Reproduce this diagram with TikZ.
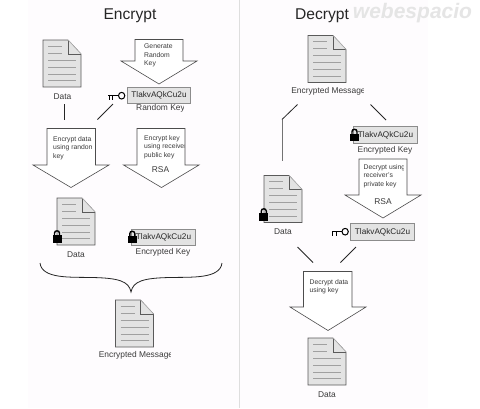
\documentclass[tikz,border=0pt]{standalone}
\usepackage{fontspec}
\setmainfont{Liberation Sans}
\definecolor{ink}{HTML}{3A3A3A}
\definecolor{docfill}{HTML}{E3E3E3}
\definecolor{docline}{HTML}{5A5A5A}
\definecolor{docrule}{HTML}{A0A0A0}
\definecolor{panel}{HTML}{FEFCFE}
\newcommand{\smalltxt}{\fontsize{6.8}{8.2}\selectfont}
\newcommand{\labtxt}{\fontsize{8.4}{10}\selectfont}
\tikzset{
  x=1pt,y=-1pt,
  title/.style={font=\fontsize{15.6}{18}\selectfont,text=black!85,inner sep=0pt},
  lab/.style={font=\labtxt,text=ink,inner sep=0pt},
  note/.style={font=\smalltxt,text=ink,inner sep=0pt,anchor=north west,align=left},
  keybox/.style={draw=black!45,fill=docfill,line width=.7pt,minimum width=63.5,minimum height=16.5,
    inner sep=0pt,font=\fontsize{8.2}{10}\selectfont,text=black!85},
  bigarrow/.style={draw=black!70,fill=white,line width=.6pt,line join=miter},
  link/.style={draw=black!85,line width=.8pt},
  graylink/.style={draw=black!55,line width=1pt},
  docicon/.pic={
    \path[draw=docline,fill=docfill,line width=.7pt] (0,0) -- (25,0) -- (38,14) -- (38,47) -- (0,47) -- cycle;
    \path[draw=docline,fill=docfill,line width=.7pt] (25,0) -- (25,14) -- (38,14);
    \path[draw=black!30,line width=.5pt] (25,0) -- (38,14);
    \path[draw=docrule,line width=.7pt] (5,6) -- (19,6) (5,13) -- (19,13)
      (5,20) -- (33,20) (5,27) -- (33,27) (5,34) -- (33,34) (5,40.5) -- (33,40.5);
  },
  lockicon/.pic={
    \fill[black] (0,5) rectangle (9,12.5);
    \draw[black,line width=1.4pt] (2,5.5) -- (2,3) .. controls (2,.1) and (7,.1) .. (7,3) -- (7,5.5);
  },
  keyicon/.pic={
    \draw[black,line width=1pt] (16.5,3.2) .. controls (16.5,-1.2) and (10.2,-1.2) .. (10.2,3.2) .. controls (10.2,7.6) and (16.5,7.6) .. (16.5,3.2);
    \draw[black,line width=1.1pt] (10.2,3.2) -- (0,3.2) (1,3.2) -- (1,7.2) (4.5,3.2) -- (4.5,7.2);
  }
}
\newcommand{\cliplabel}[5]{\begin{scope}\clip (0,#3-8) rectangle (#4,#3+8);\node[lab,anchor=center] (#1) at (#2,#3) {#5};\end{scope}}
\newcommand{\clipnote}[5]{\begin{scope}\clip (0,0) rectangle (#4,408);\node[note] (#1) at (#2,#3) {#5};\end{scope}}
\begin{document}
\begin{tikzpicture}
\useasboundingbox (0,0) rectangle (480,408);
\fill[white] (0,0) rectangle (480,408);
\fill[panel] (28,0) rectangle (239,408);
\fill[panel] (240,0) rectangle (428,408);
\draw[black!13,line width=.8pt] (239.5,0) -- (239.5,408);

% titles and watermark
\node[title] (enc) at (130,15.5) {Encrypt};
\node[title] (dec) at (322,15.5) {Decrypt};
\node[font=\fontsize{21}{24}\selectfont\bfseries\itshape,text=black!10,inner sep=0pt] (wm) at (412.5,13) {webespacio};

% ---------- Encrypt ----------
\pic (d1) at (43,40) {docicon};
\node[lab] (d1l) at (62.5,96.5) {Data};
\path[bigarrow] (135,39.5) -- (183,39.5) -- (183,61) -- (197,61) -- (159,84) -- (121,61) -- (135,61) -- cycle;
\node[note] (a1t) at (144,44) {Generate\\Random\\Key};
\pic (k1) at (108.3,92.5) {keyicon};
\node[keybox] (kb1) at (159,95.5) {TlakvAQkCu2u};
\cliplabel{rk}{160.5}{108}{183}{Random Key}
\coordinate (c1a) at (64,104); \coordinate (c1b) at (64,119.5);
\coordinate (c2a) at (113,104); \coordinate (c2b) at (97.5,119.5);
\draw[link] (c1a) -- (c1b);
\draw[link] (c2a) -- (c2b);
\path[bigarrow] (47,128.5) -- (95.5,128.5) -- (95.5,165) -- (109,165) -- (71,187.5) -- (33,165) -- (47,165) -- cycle;
\clipnote{a2t}{53}{136.5}{91}{Encrypt data\\using random\\key}
\path[bigarrow] (137,128.5) -- (185,128.5) -- (185,165) -- (199,165) -- (161.5,187.5) -- (123.5,165) -- (137,165) -- cycle;
\clipnote{a3t}{144}{135.5}{184}{Encrypt key\\using receiver's\\public key}
\node[lab] (rsa1) at (160.5,169.5) {RSA};
\pic (d2) at (57,198) {docicon};
\pic (l1) at (52.5,230) {lockicon};
\node[lab] (d2l) at (76,254.5) {Data};
\node[keybox] (kb2) at (163.5,237.5) {TlakvAQkCu2u};
\pic (l2) at (127.8,230.5) {lockicon};
\node[lab] (ek1) at (163,252) {Encrypted Key};
\coordinate (bl) at (40,263); \coordinate (bm) at (131,292); \coordinate (br) at (222,263);
\draw[black!85,line width=.8pt] (bl) .. controls (42,279) and (70,277) .. (92,277.5) .. controls (118,278) and (129,281) .. (bm)
  .. controls (133,281) and (144,278) .. (170,277.5) .. controls (192,277) and (220,279) .. (br);
\pic (d3) at (115.5,300) {docicon};
\cliplabel{em1}{136}{355.5}{170.7}{Encrypted Message}

% ---------- Decrypt ----------
\pic (d4) at (308,35.5) {docicon};
\cliplabel{em2}{328.5}{91.5}{363.5}{Encrypted Message}
\coordinate (c3a) at (297.5,104.5); \coordinate (c3b) at (282,119.5); \coordinate (c3c) at (282,161);
\coordinate (c4a) at (370.5,104.5); \coordinate (c4b) at (386,120);
\draw[graylink] (c3b) -- (c3c);
\draw[link] (c3a) -- (c3b);
\draw[link] (c4a) -- (c4b);
\node[keybox] (kb3) at (385.5,135) {TlakvAQkCu2u};
\pic (l3) at (350,128.5) {lockicon};
\cliplabel{ek2}{385}{150}{412}{Encrypted Key}
\path[bigarrow] (359,159) -- (407,159) -- (407,195) -- (421,195) -- (383,218) -- (345,195) -- (359,195) -- cycle;
\clipnote{a4t}{363.5}{164.5}{403.5}{Decrypt using\\receiver's\\private key}
\node[lab] (rsa2) at (383,201.5) {RSA};
\pic (d5) at (264,175.5) {docicon};
\pic (l4) at (259.3,208) {lockicon};
\node[lab] (d5l) at (283,232) {Data};
\pic (k2) at (331.8,228.5) {keyicon};
\node[keybox] (kb4) at (382.5,232) {TlakvAQkCu2u};
\coordinate (c5a) at (297.5,247); \coordinate (c5b) at (313,262.5);
\coordinate (c6a) at (356,247); \coordinate (c6b) at (340.5,262.5);
\draw[link] (c5a) -- (c5b);
\draw[link] (c6a) -- (c6b);
\path[bigarrow] (303.5,271.5) -- (352,271.5) -- (352,307) -- (366,307) -- (328,330.5) -- (290,307) -- (303.5,307) -- cycle;
\node[note] (a5t) at (309.5,279.5) {Decrypt data\\using key};
\pic (d6) at (308,338) {docicon};
\node[lab] (d6l) at (327,394.5) {Data};
\end{tikzpicture}
\end{document}
